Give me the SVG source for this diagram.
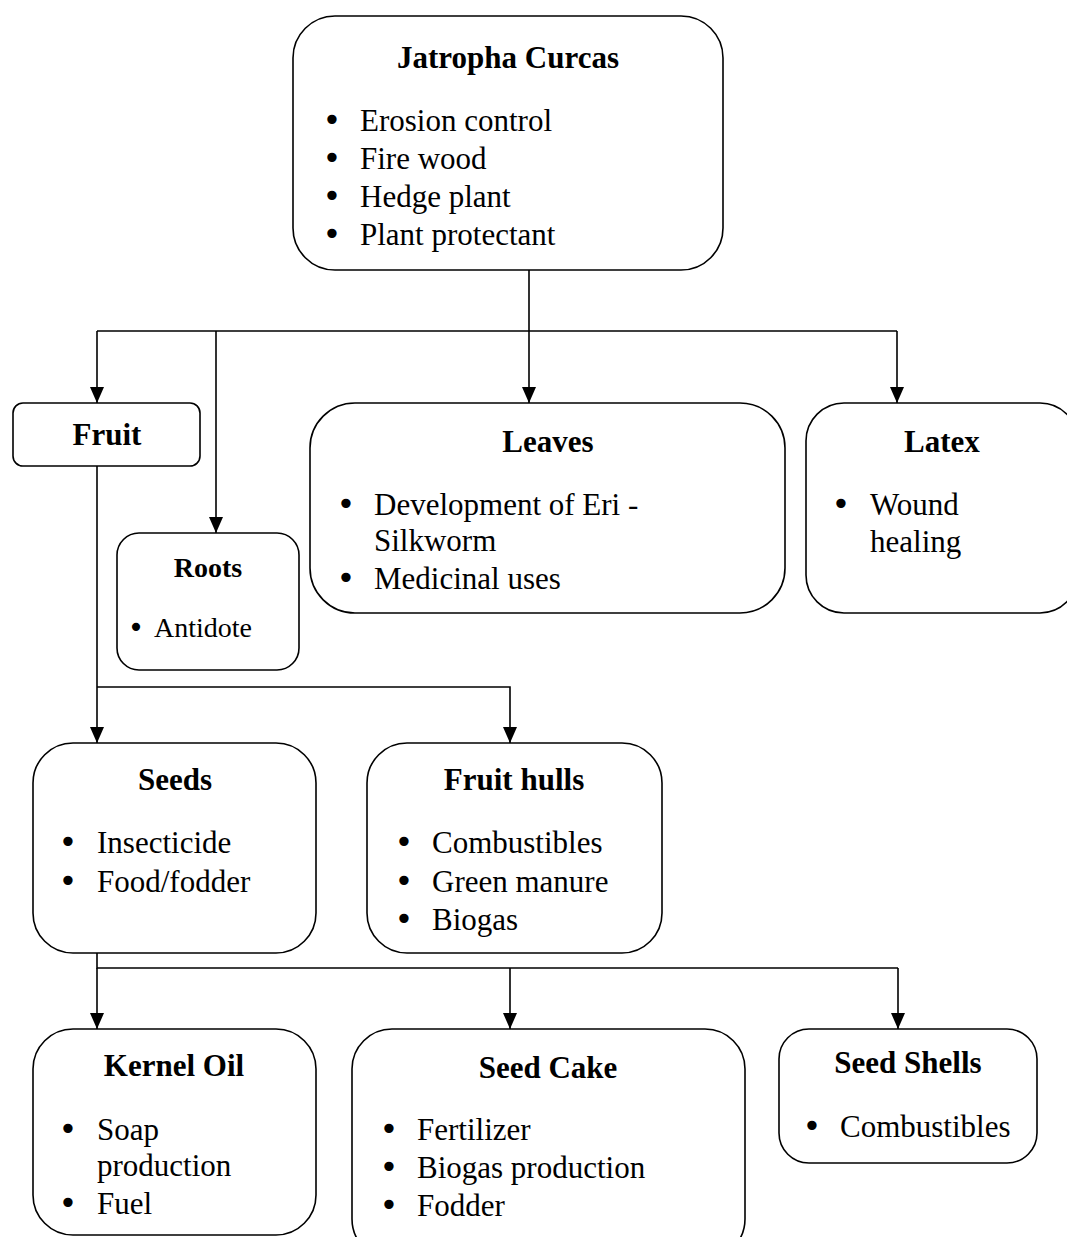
<svg xmlns="http://www.w3.org/2000/svg" width="1067" height="1237" viewBox="0 0 1067 1237">
<style>
.box{fill:#fff;stroke:#000;stroke-width:1.6}
.ln{fill:none;stroke:#000;stroke-width:1.6}
.t{font-family:"Liberation Serif","Times New Roman",serif;font-weight:bold;font-size:31px;text-anchor:middle;fill:#000}
.b{font-family:"Liberation Serif","Times New Roman",serif;font-size:31px;fill:#000}
.d{font-family:"DejaVu Sans",sans-serif;font-size:32px;text-anchor:middle;fill:#000}
</style>
<defs>
<marker id="ah" viewBox="0 0 16 14" refX="16" refY="7" markerWidth="16" markerHeight="14" markerUnits="userSpaceOnUse" orient="auto">
<path d="M0,0 L16,7 L0,14 Z" fill="#000"/>
</marker>
</defs>
<rect width="1067" height="1237" fill="#fff"/>
<g id="connectors">
<path class="ln" d="M529,270 V331 M97,331 H897"/>
<path class="ln" d="M97,331 V403" marker-end="url(#ah)"/>
<path class="ln" d="M216,331 V533" marker-end="url(#ah)"/>
<path class="ln" d="M529,331 V403" marker-end="url(#ah)"/>
<path class="ln" d="M897,331 V403" marker-end="url(#ah)"/>
<path class="ln" d="M97,466 V743" marker-end="url(#ah)"/>
<path class="ln" d="M97,687 H510 V743" marker-end="url(#ah)"/>
<path class="ln" d="M97,953 V968 H898"/>
<path class="ln" d="M97,968 V1029" marker-end="url(#ah)"/>
<path class="ln" d="M510,968 V1029" marker-end="url(#ah)"/>
<path class="ln" d="M898,968 V1029" marker-end="url(#ah)"/>
</g>
<g id="jatropha">
<rect class="box" x="293" y="16" width="430" height="254" rx="42"/>
<text class="t" x="508" y="68">Jatropha Curcas</text>
<text class="d" x="332" y="131">•</text><text class="b" x="360" y="131">Erosion control</text>
<text class="d" x="332" y="169">•</text><text class="b" x="360" y="169">Fire wood</text>
<text class="d" x="332" y="207">•</text><text class="b" x="360" y="207">Hedge plant</text>
<text class="d" x="332" y="245">•</text><text class="b" x="360" y="245">Plant protectant</text>
</g>
<g id="fruit">
<rect class="box" x="13" y="403" width="187" height="63" rx="10"/>
<text class="t" x="107" y="445">Fruit</text>
</g>
<g id="roots">
<rect class="box" x="117" y="533" width="182" height="137" rx="22"/>
<text class="t" x="208" y="577" style="font-size:28px">Roots</text>
<text class="d" x="136" y="637" style="font-size:28px">•</text><text class="b" x="154" y="637" style="font-size:28px">Antidote</text>
</g>
<g id="leaves">
<rect class="box" x="310" y="403" width="475" height="210" rx="45"/>
<text class="t" x="548" y="452">Leaves</text>
<text class="d" x="346" y="515">•</text><text class="b" x="374" y="515">Development of Eri -</text>
<text class="b" x="374" y="551">Silkworm</text>
<text class="d" x="346" y="589">•</text><text class="b" x="374" y="589">Medicinal uses</text>
</g>
<g id="latex">
<rect class="box" x="806" y="403" width="272" height="210" rx="38"/>
<text class="t" x="942" y="452">Latex</text>
<text class="d" x="841" y="515">•</text><text class="b" x="870" y="515">Wound</text>
<text class="b" x="870" y="552">healing</text>
</g>
<g id="seeds">
<rect class="box" x="33" y="743" width="283" height="210" rx="40"/>
<text class="t" x="175" y="790">Seeds</text>
<text class="d" x="68" y="853">•</text><text class="b" x="97" y="853">Insecticide</text>
<text class="d" x="68" y="892">•</text><text class="b" x="97" y="892">Food/fodder</text>
</g>
<g id="fruit-hulls">
<rect class="box" x="367" y="743" width="295" height="210" rx="40"/>
<text class="t" x="514" y="790">Fruit hulls</text>
<text class="d" x="404" y="853">•</text><text class="b" x="432" y="853">Combustibles</text>
<text class="d" x="404" y="892">•</text><text class="b" x="432" y="892">Green manure</text>
<text class="d" x="404" y="930">•</text><text class="b" x="432" y="930">Biogas</text>
</g>
<g id="kernel-oil">
<rect class="box" x="33" y="1029" width="283" height="206" rx="40"/>
<text class="t" x="174" y="1076">Kernel Oil</text>
<text class="d" x="68" y="1140">•</text><text class="b" x="97" y="1140">Soap</text>
<text class="b" x="97" y="1176">production</text>
<text class="d" x="68" y="1214">•</text><text class="b" x="97" y="1214">Fuel</text>
</g>
<g id="seed-cake">
<rect class="box" x="352" y="1029" width="393" height="230" rx="40"/>
<text class="t" x="548" y="1078">Seed Cake</text>
<text class="d" x="389" y="1140">•</text><text class="b" x="417" y="1140">Fertilizer</text>
<text class="d" x="389" y="1178">•</text><text class="b" x="417" y="1178">Biogas production</text>
<text class="d" x="389" y="1216">•</text><text class="b" x="417" y="1216">Fodder</text>
</g>
<g id="seed-shells">
<rect class="box" x="779" y="1029" width="258" height="134" rx="30"/>
<text class="t" x="908" y="1073">Seed Shells</text>
<text class="d" x="812" y="1137">•</text><text class="b" x="840" y="1137">Combustibles</text>
</g>
</svg>
